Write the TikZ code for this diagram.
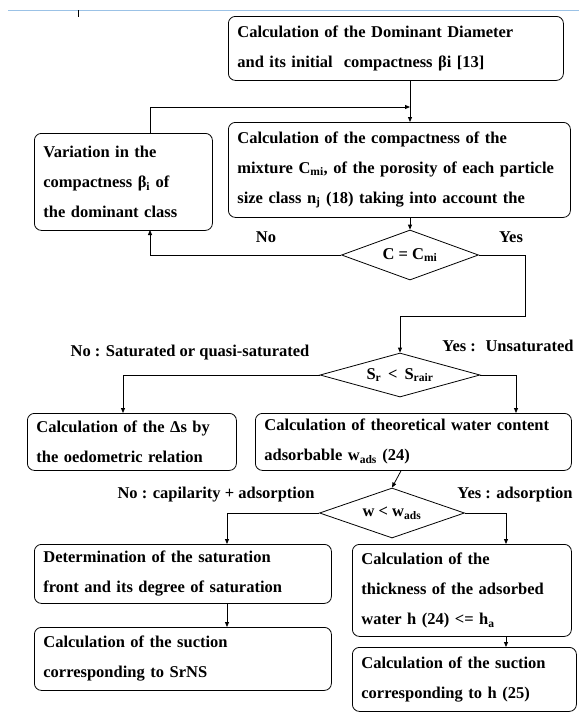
\documentclass[tikz,border=0pt]{standalone}
\usepackage{fontspec}
\setmainfont{Liberation Serif}
\usetikzlibrary{calc}
\usetikzlibrary{shapes.geometric}
\usetikzlibrary{arrows.meta}
\definecolor{headrule}{RGB}{155,194,230}
\newcommand*{\picwd}{579}
\newcommand*{\picht}{715}
\newcommand*{\sub}[1]{\textsubscript{#1}}

\begin{document}
\begin{tikzpicture}[x=1pt, y=-1pt,
    font=\bfseries\fontsize{16.5}{30}\selectfont,
    box/.style={draw, line width=0.8pt, rounded corners=7pt, anchor=north west,
                align=left, inner xsep=9pt, inner ysep=0pt},
    decision/.style={draw, line width=0.8pt, diamond, inner sep=0pt, shape aspect=3},
    link/.style={line width=0.8pt, -{Triangle[length=5pt,width=4pt]}},
    lbl/.style={inner sep=0pt}]
    \useasboundingbox (0,0) rectangle (\picwd,\picht);
    % page header rule
    \draw [headrule, line width=0.8pt] (8,10) -- (\picwd,10);
    \draw [line width=1pt] (78,10) -- (78,17);
    % boxes
    \node [box, minimum width=335pt, minimum height=64pt, text width=317pt] (dominant) at (228,16)
        {Calculation of the Dominant Diameter\\and its initial \ compactness βi [13]};
    \node [box, minimum width=342pt, minimum height=95pt, text width=324pt] (mixture) at (228,122)
        {Calculation of the compactness of the\\mixture C\sub{mi}, of the porosity of each particle\\size class n\sub{j} (18) taking into account the};
    \node [box, minimum width=178pt, minimum height=97pt, text width=160pt] (variation) at (34,133)
        {Variation in the\\compactness β\sub{i} of\\the dominant class};
    \node [box, minimum width=209pt, minimum height=57pt, text width=191pt] (oedo) at (27,413)
        {Calculation of the Δs by\\the oedometric relation};
    \node [box, minimum width=316pt, minimum height=57pt, text width=298pt] (wads) at (255,413)
        {Calculation of theoretical water content\\adsorbable w\sub{ads} (24)};
    \node [box, minimum width=297pt, minimum height=59pt, text width=279pt] (front) at (34,544)
        {Determination of the saturation\\front and its degree of saturation};
    \node [box, minimum width=297pt, minimum height=63pt, text width=279pt] (suctionS) at (34,627)
        {Calculation of the suction\\corresponding to SrNS};
    \node [box, minimum width=219pt, minimum height=92pt, text width=201pt] (thick) at (352,544)
        {Calculation of the\\thickness of the adsorbed\\water h (24) <= h\sub{a}};
    \node [box, minimum width=224pt, minimum height=64pt, text width=206pt] (suctionH) at (352,647)
        {Calculation of the suction\\corresponding to h (25)};
    % decisions
    \node [decision, minimum width=137pt, minimum height=50pt] (testC) at (410,255) {C = C\sub{mi}};
    \node [decision, minimum width=160pt, minimum height=44pt] (testS) at (400,375) {S\sub{r} \,<\, S\sub{rair}};
    \node [decision, minimum width=145pt, minimum height=50pt] (testW) at (392,513) {w < w\sub{ads}};
    % labels
    \node [lbl] (no1) at (266,237) {No};
    \node [lbl] (yes1) at (511,237) {Yes};
    \node [lbl] (no2) at (190,353) {No : Saturated or quasi-saturated};
    \node [lbl] (yes2) at (508,346) {Yes : \ Unsaturated};
    \node [lbl] (no3) at (216,495) {No : capilarity + adsorption};
    \node [lbl] (yes3) at (515,495) {Yes : adsorption};
    % turning points
    \coordinate (feed) at (410,107);
    \coordinate (varout) at (150,133);
    \coordinate (varin) at (150,230);
    \coordinate (yesturn) at (525,316);
    % connectors
    \draw [link] (dominant.south -| testC) -- (mixture.north -| testC);
    \draw [link] (varout) |- (feed);
    \draw [link] (mixture.south -| testC) -- (testC.north);
    \draw [link] (testC.west) -| (varin);
    \draw [link] (testC.east) -| (yesturn) -| (testS.north);
    \draw [link] (testS.west) -| (oedo.north -| 123,0);
    \draw [link] (testS.east) -| (wads.north -| 516,0);
    \draw [link] (wads.south -| 401,0) -- (testW.north);
    \draw [link] (testW.west) -| (front.north -| 227,0);
    \draw [link] (testW.east) -| (thick.north -| 506,0);
    \draw [link] (front.south -| 227,0) -- (suctionS.north -| 227,0);
    \draw [link] (thick.south -| 506,0) -- (suctionH.north -| 506,0);
\end{tikzpicture}
\end{document}
